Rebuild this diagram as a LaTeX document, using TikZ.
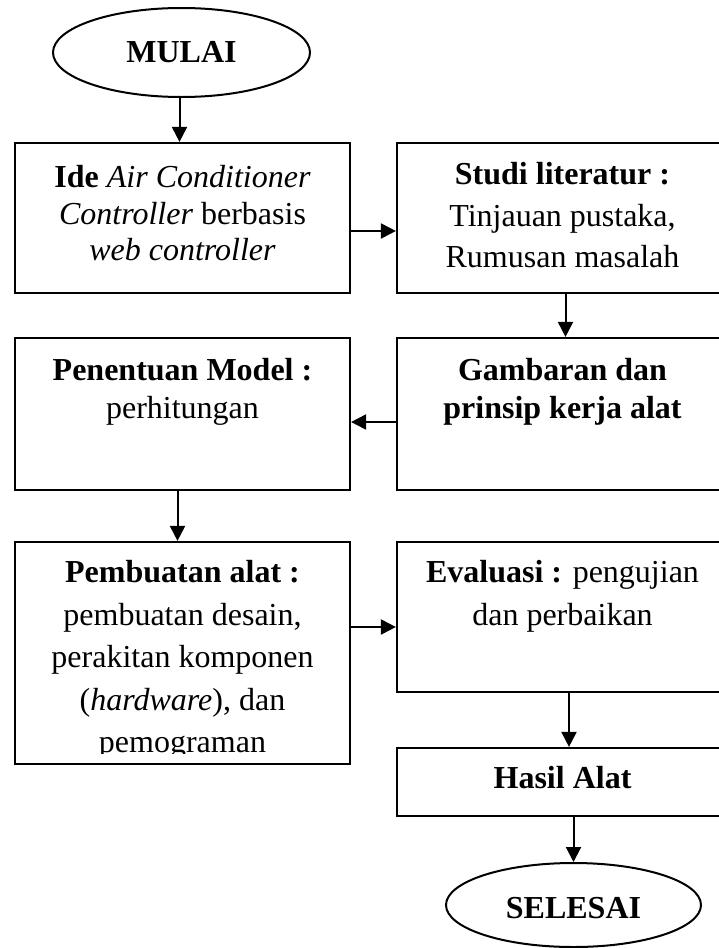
\documentclass[tikz,border=0pt]{standalone}
\usepackage{fontspec}
\setmainfont{Liberation Serif}
\usetikzlibrary{shapes.geometric,arrows.meta}

\tikzset{
  stepbox/.style={draw, line width=2.2pt, rectangle, inner sep=0pt, minimum width=#1},
  stepbox/.default=335pt,
  terminal/.style={draw, line width=2pt, ellipse, inner sep=0pt},
  txt/.style={anchor=base, inner sep=0pt, font=\fontsize{32}{38}\selectfont},
  flow/.style={line width=2pt, -{Triangle[length=15pt,width=15pt]}}
}

\begin{document}
\begin{tikzpicture}[x=1pt, y=-1pt]
  \useasboundingbox (0,0) rectangle (719,948);
  \clip (0,0) rectangle (719,948);

  % terminals
  \node[terminal, minimum width=257pt, minimum height=89pt] (mulai) at (181.5,52.5) {};
  \node[txt] (tmulai) at (181.5,62) {\textbf{MULAI}};
  \node[terminal, minimum width=255pt, minimum height=84pt] (selesai) at (573.5,905) {};
  \node[txt] (tselesai) at (573.5,918) {\textbf{SELESAI}};

  % process boxes
  \node[stepbox, minimum height=150pt] (ide) at (182.5,218) {};
  \node[stepbox=331pt, minimum height=150pt] (studi) at (562.5,218) {};
  \node[stepbox, minimum height=152pt] (model) at (182.5,414) {};
  \node[stepbox=331pt, minimum height=152pt] (gambar) at (562.5,414) {};
  \node[stepbox, minimum height=222pt] (buat) at (182.5,653) {};
  \node[stepbox=331pt, minimum height=150pt] (eval) at (562.5,617) {};
  \node[stepbox=331pt, minimum height=68pt] (hasil) at (562.5,782) {};

  % box texts
  \node[txt] (ide1) at (182.5,187) {\textbf{Ide} \textit{Air Conditioner}};
  \node[txt] (ide2) at (182.5,224) {\textit{Controller} berbasis};
  \node[txt] (ide3) at (182.5,260) {\textit{web controller}};

  \node[txt] (studi1) at (562.5,184) {\textbf{Studi literatur :}};
  \node[txt] (studi2) at (562.5,226) {Tinjauan pustaka,};
  \node[txt] (studi3) at (562.5,267) {Rumusan masalah};

  \node[txt] (model1) at (182.5,380) {\textbf{Penentuan Model :}};
  \node[txt] (model2) at (182.5,418) {perhitungan};

  \node[txt] (gambar1) at (562.5,380) {\textbf{Gambaran dan}};
  \node[txt] (gambar2) at (562.5,418) {\textbf{prinsip kerja alat}};

  \begin{scope}
    \clip (15,542) rectangle (350,753);
    \node[txt] (buat1) at (182.5,582) {\textbf{Pembuatan alat :}};
    \node[txt] (buat2) at (182.5,625) {pembuatan desain,};
    \node[txt] (buat3) at (182.5,667) {perakitan komponen};
    \node[txt] (buat4) at (182.5,710) {(\textit{hardware}), dan};
    \node[txt] (buat5) at (182.5,752) {pemograman};
  \end{scope}

  \node[txt] (eval1) at (562.5,582) {\textbf{Evaluasi :} pengujian};
  \node[txt] (eval2) at (562.5,625) {dan perbaikan};

  \node[txt] (hasil1) at (562.5,788) {\textbf{Hasil Alat}};

  % connectors
  \draw[flow] ([xshift=-2pt]mulai.south) -- ([xshift=-2pt]mulai.south |- ide.north);
  \draw[flow] ([yshift=-13pt]ide.east) -- ([yshift=-13pt]ide.east -| studi.west);
  \draw[flow] ([xshift=3pt]studi.south) -- ([xshift=3pt]gambar.north);
  \draw[flow] ([yshift=-8pt]gambar.west) -- ([yshift=-8pt]gambar.west -| model.east);
  \draw[flow] ([xshift=-5pt]model.south) -- ([xshift=-5pt]buat.north);
  \draw[flow] ([yshift=26pt]buat.east) -- ([yshift=26pt]buat.east -| eval.west);
  \draw[flow] ([xshift=6.5pt]eval.south) -- ([xshift=6.5pt]hasil.north);
  \draw[flow] (hasil.south -| selesai.north) -- (selesai.north);
\end{tikzpicture}
\end{document}
